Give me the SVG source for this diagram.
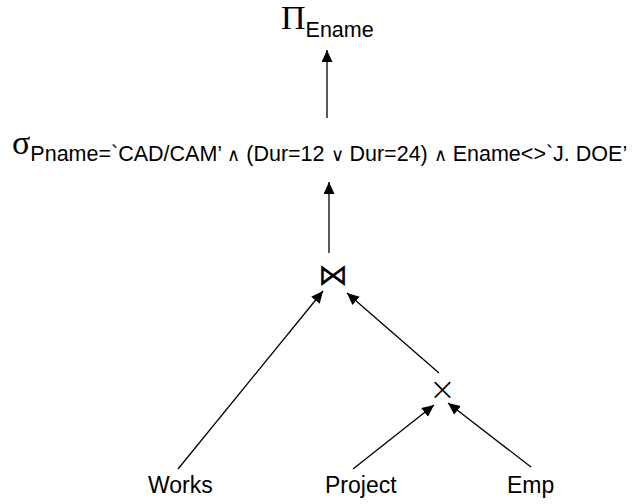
<svg xmlns="http://www.w3.org/2000/svg" width="634" height="504" viewBox="0 0 634 504">
<style>
.lbl{font-family:"Liberation Sans",Arial,sans-serif;font-size:21.5px;fill:#000}
.nm{font-family:"Liberation Sans",Arial,sans-serif;font-size:23px;fill:#000}
.gr{font-family:"Liberation Serif","Times New Roman",serif;font-size:34px;fill:#000}
.op{font-family:"DejaVu Sans",sans-serif;font-weight:200;fill:#000}
.sm{font-family:"DejaVu Sans",sans-serif;font-weight:200;font-size:18px}
.edge{stroke:#000;stroke-width:1.3;fill:none;marker-end:url(#ah)}
</style>
<defs>
<marker id="ah" markerUnits="userSpaceOnUse" markerWidth="14" markerHeight="12" refX="12" refY="5.5" orient="auto">
<path d="M0,0 L12,5.5 L0,11 z" fill="#000"/>
</marker>
</defs>
<g id="project-op">
<text class="gr" x="281" y="29">Π<tspan class="lbl" dy="8">Ename</tspan></text>
</g>
<g id="select-op">
<text class="gr" x="12" y="154">σ<tspan class="lbl" dy="7">Pname=`CAD/CAM’ <tspan class="sm">∧</tspan> (Dur=12 <tspan class="sm">∨</tspan> Dur=24) <tspan class="sm">∧</tspan> Ename&lt;&gt;`J. DOE’</tspan></text>
</g>
<g id="join-op">
<text class="op" x="332.5" y="285" font-size="30" text-anchor="middle">⋈</text>
</g>
<g id="cross-op">
<text class="op" x="442.5" y="400" font-size="32" text-anchor="middle">×</text>
</g>
<g id="works">
<text class="nm" x="148" y="493">Works</text>
</g>
<g id="project">
<text class="nm" x="325" y="493">Project</text>
</g>
<g id="emp">
<text class="nm" x="507" y="493">Emp</text>
</g>
<g id="connectors">
<line class="edge" x1="327" y1="118" x2="327" y2="50"/>
<line class="edge" x1="329" y1="253" x2="329" y2="182"/>
<line class="edge" x1="178" y1="469" x2="323" y2="291"/>
<line class="edge" x1="439" y1="373" x2="347" y2="293"/>
<line class="edge" x1="353" y1="469" x2="434" y2="405"/>
<line class="edge" x1="531" y1="467" x2="448" y2="403"/>
</g>
</svg>
